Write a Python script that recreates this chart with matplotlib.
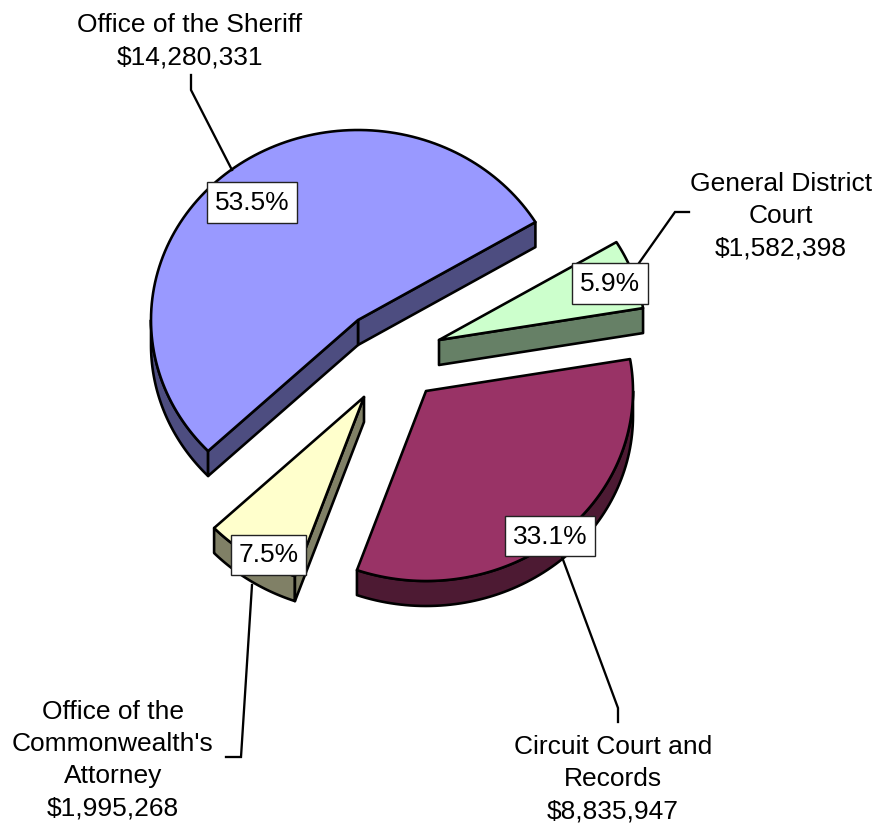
"""Exploded 3-D style pie of the judicial budget, drawn on a pixel-sized axes."""

import matplotlib
matplotlib.use("Agg")
import matplotlib.pyplot as plt
import numpy as np
from matplotlib.patches import Polygon, Rectangle

plt.rcParams["font.family"] = ["Liberation Sans", "DejaVu Sans"]

names = ["Office of the Sheriff", "General District\nCourt",
         "Circuit Court and\nRecords", "Office of the\nCommonwealth's\nAttorney"]
budgets = [14280331, 1582398, 8835947, 1995268]
top_colors = ["#9999FF", "#CCFFCC", "#993366", "#FFFFCC"]
side_colors = ["#4D4D80", "#668066", "#4D1A33", "#808066"]

# apex of each exploded slice, in pixels
apexes = [(358, 320), (439, 340), (426, 391), (364, 397)]
label_boxes = [(207, 182, 297, 223), (572, 263, 648, 304),
               (505, 516, 595, 556), (231, 535, 306, 575)]
name_anchors = [(190, 41), (781, 216), (613, 779), (113, 760)]
leaders = [[(232, 170), (191, 90), (191, 75)],
           [(639, 263), (675, 212), (689, 212)],
           [(562, 557), (618, 708), (618, 722)],
           [(252, 585), (241, 757), (226, 757)]]

RX, RY = 207, 190
DEPTH = 25
START = 223.6
EDGE = 2.6 * 72 / 100
LEADER = 2.3 * 72 / 100


def rim(apex, t):
    t = np.radians(t)
    return np.column_stack([apex[0] + RX * np.cos(t), apex[1] - RY * np.sin(t)])


def draw_slice(ax, apex, t0, t1, top, side):
    """Slice spans t0 to t1 (degrees, counter-clockwise on the ellipse)."""
    ts = np.linspace(t0, t1, 120)
    arc = rim(apex, ts)
    down = np.array([0, DEPTH])
    kw = dict(edgecolor="black", linewidth=EDGE, joinstyle="round")

    # outer wall: only the front half of the ellipse shows
    for lo, hi in [(180, 360), (540, 720)]:
        a, b = max(t0, lo), min(t1, hi)
        if a < b:
            wall = rim(apex, np.linspace(a, b, 80))
            ax.add_patch(Polygon(np.vstack([wall, (wall + down)[::-1]]), facecolor=side, **kw))

    # cut faces that turn towards the viewer
    p = np.array(apex, dtype=float)
    for t, sign in ((t0, 1), (t1, -1)):
        end = rim(apex, [t])[0]
        d = end - p
        normal = sign * np.array([-d[1], d[0]])
        if normal[1] > 0:
            ax.add_patch(Polygon([p, end, end + down, p + down], facecolor=side, **kw))

    ax.add_patch(Polygon(np.vstack([p, arc]), facecolor=top, **kw))


fig = plt.figure(figsize=(8.79, 8.27), dpi=100)
ax = fig.add_axes([0, 0, 1, 1])
ax.set_xlim(0, 879)
ax.set_ylim(827, 0)
ax.axis("off")

total = sum(budgets)

# slices run clockwise from the start angle
t = START
for budget, apex, top, side in zip(budgets, apexes, top_colors, side_colors):
    end = t - budget / total * 360
    lo, hi = end % 360, t % 360
    if hi <= lo:
        hi += 360
    draw_slice(ax, apex, lo, hi, top, side)
    t = end

for pts in leaders:
    xs, ys = zip(*pts)
    ax.plot(xs, ys, color="black", lw=LEADER, solid_joinstyle="miter", zorder=5)

for (x0, y0, x1, y1), budget in zip(label_boxes, budgets):
    ax.add_patch(Rectangle((x0, y0), x1 - x0, y1 - y0, facecolor="white",
                           edgecolor="#222222", linewidth=1.0, zorder=6))
    ax.text((x0 + x1) / 2, (y0 + y1) / 2 + 0.5, f"{budget / total * 100:.1f}%", fontsize=19,
            ha="center", va="center", color="black", zorder=7)

for name, budget, (x, y) in zip(names, budgets, name_anchors):
    ax.text(x, y, f"{name}\n${budget:,}", fontsize=19, ha="center", va="center",
            linespacing=1.43, color="black", zorder=7)

fig.savefig("out.png", dpi=100, facecolor="white")
